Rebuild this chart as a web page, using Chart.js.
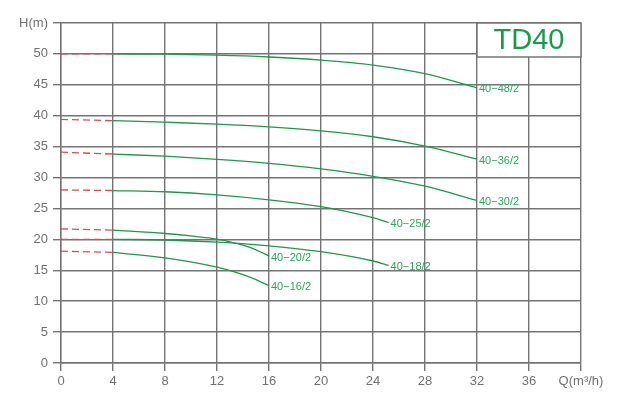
<!DOCTYPE html>
<html>
<head>
<meta charset="utf-8">
<script src="https://cdn.jsdelivr.net/npm/chart.js@4/dist/chart.umd.min.js"></script>
<style>
    html, body { margin: 0; padding: 0; background: #fff; }
    #wrap { width: 626px; height: 394px; }
</style>
</head>
<body>
<div id="wrap"><canvas id="pumpChart" width="626" height="394"></canvas></div>
<script>
// flow Q (m3/h) and head H (m)
const modelNames = ['40−48/2', '40−36/2', '40−30/2', '40−25/2', '40−20/2', '40−18/2', '40−16/2'];

const flow48 = [4, 8, 12, 16, 20, 24, 28, 32];
const head48 = [50.0, 49.95, 49.8, 49.5, 49.0, 48.2, 46.8, 44.5];
const flow36 = [4, 8, 12, 16, 20, 24, 28, 32];
const head36 = [39.2, 38.95, 38.65, 38.2, 37.55, 36.6, 35.1, 33.0];
const flow30 = [4, 8, 12, 16, 20, 24, 28, 32];
const head30 = [33.8, 33.45, 32.95, 32.3, 31.4, 30.2, 28.6, 26.3];
const flow25 = [4, 8, 12, 16, 20, 22, 24, 25.2];
const head25 = [27.9, 27.7, 27.2, 26.4, 25.3, 24.5, 23.5, 22.7];
const flow20 = [4, 8, 10, 12, 13, 14, 15, 16];
const head20 = [21.5, 20.95, 20.55, 20.05, 19.6, 19.05, 18.3, 17.3];
const flow18 = [4, 8, 12, 16, 20, 24, 25.2];
const head18 = [20.0, 19.9, 19.55, 18.95, 18.0, 16.5, 15.8];
const flow16 = [4, 8, 12, 14, 15, 16];
const head16 = [17.9, 17.0, 15.5, 14.3, 13.5, 12.5];

// dashed start segment, Q = 0 to 4
const dashFlow = [0, 4];
const dashHead = [[50.0, 50.0], [39.4, 39.2], [34.1, 33.8], [28.0, 27.9], [21.7, 21.5], [20.0, 20.0], [18.1, 17.9]];

const xTicks = [0, 4, 8, 12, 16, 20, 24, 28, 32, 36, 40];
const yTicks = [0, 5, 10, 15, 20, 25, 30, 35, 40, 45, 50, 55];

const curveFlows = [flow48, flow36, flow30, flow25, flow20, flow18, flow16];
const curveHeads = [head48, head36, head30, head25, head20, head18, head16];

const GREEN = '#1a9a4c';
const RED = '#e6474b';
const GRID = '#747474';

function toPoints(xs, ys) {
    return xs.map((x, i) => ({ x: x, y: ys[i] }));
}

const datasets = [];
curveFlows.forEach((fl, i) => {
    datasets.push({
        label: modelNames[i],
        data: toPoints(fl, curveHeads[i]),
        showLine: true,
        borderColor: GREEN,
        borderWidth: 1.3,
        pointRadius: 0,
        cubicInterpolationMode: 'monotone',
        fill: false
    });
    datasets.push({
        label: modelNames[i] + ' dash',
        data: toPoints(dashFlow, dashHead[i]),
        showLine: true,
        borderColor: RED,
        borderWidth: 1.3,
        borderDash: [7, 4],
        pointRadius: 0,
        fill: false
    });
});

const curveLabels = {
    id: 'curveLabels',
    afterDatasetsDraw(chart) {
        const ctx = chart.ctx;
        const xs = chart.scales.x, ys = chart.scales.y;
        ctx.save();
        ctx.font = '11px "Liberation Sans", Arial, sans-serif';
        ctx.fillStyle = '#2aa65a';
        ctx.textAlign = 'left';
        ctx.textBaseline = 'middle';
        curveFlows.forEach((fl, i) => {
            const n = fl.length - 1;
            const px = xs.getPixelForValue(fl[n]);
            const py = ys.getPixelForValue(curveHeads[i][n]);
            ctx.fillText(modelNames[i], px + 2, py + 1.5);
        });

        // model box in the top right corner
        const left = xs.getPixelForValue(32);
        const right = xs.getPixelForValue(40);
        const top = ys.getPixelForValue(55);
        const bottom = ys.getPixelForValue(49.5);
        ctx.fillStyle = '#fff';
        ctx.fillRect(left, top, right - left, bottom - top);
        ctx.strokeStyle = GRID;
        ctx.lineWidth = 1.5;
        ctx.strokeRect(left, top, right - left, bottom - top);
        ctx.fillStyle = GREEN;
        ctx.font = '29px "Liberation Sans", Arial, sans-serif';
        ctx.textAlign = 'center';
        ctx.fillText('TD40', (left + right) / 2, (top + bottom) / 2 + 1);
        ctx.restore();
    }
};

new Chart(document.getElementById('pumpChart'), {
    type: 'scatter',
    data: { datasets: datasets },
    options: {
        responsive: false,
        animation: false,
        layout: { padding: { top: 23, right: 45, left: 0, bottom: 0 } },
        plugins: { legend: { display: false }, tooltip: { enabled: false } },
        scales: {
            x: {
                type: 'linear',
                min: 0,
                max: 40,
                afterFit: s => { s.height = 31; },
                afterBuildTicks: s => { s.ticks = xTicks.map(v => ({ value: v })); },
                grid: { color: GRID, lineWidth: 1.4, tickLength: 8 },
                border: { color: GRID, width: 1.4 },
                ticks: {
                    color: '#707070',
                    padding: 3,
                    font: { family: '"Liberation Sans", Arial, sans-serif', size: 13 },
                    maxRotation: 0,
                    callback: v => v === 40 ? 'Q(m³/h)' : v
                }
            },
            y: {
                type: 'linear',
                min: 0,
                max: 55,
                afterFit: s => { s.width = 61; },
                afterBuildTicks: s => { s.ticks = yTicks.map(v => ({ value: v })); },
                grid: { color: GRID, lineWidth: 1.4, tickLength: 8 },
                border: { color: GRID, width: 1.4 },
                ticks: {
                    color: '#707070',
                    padding: 5,
                    font: { family: '"Liberation Sans", Arial, sans-serif', size: 13 },
                    callback: v => v === 55 ? 'H(m)' : v
                }
            }
        }
    },
    plugins: [curveLabels]
});
</script>
</body>
</html>
